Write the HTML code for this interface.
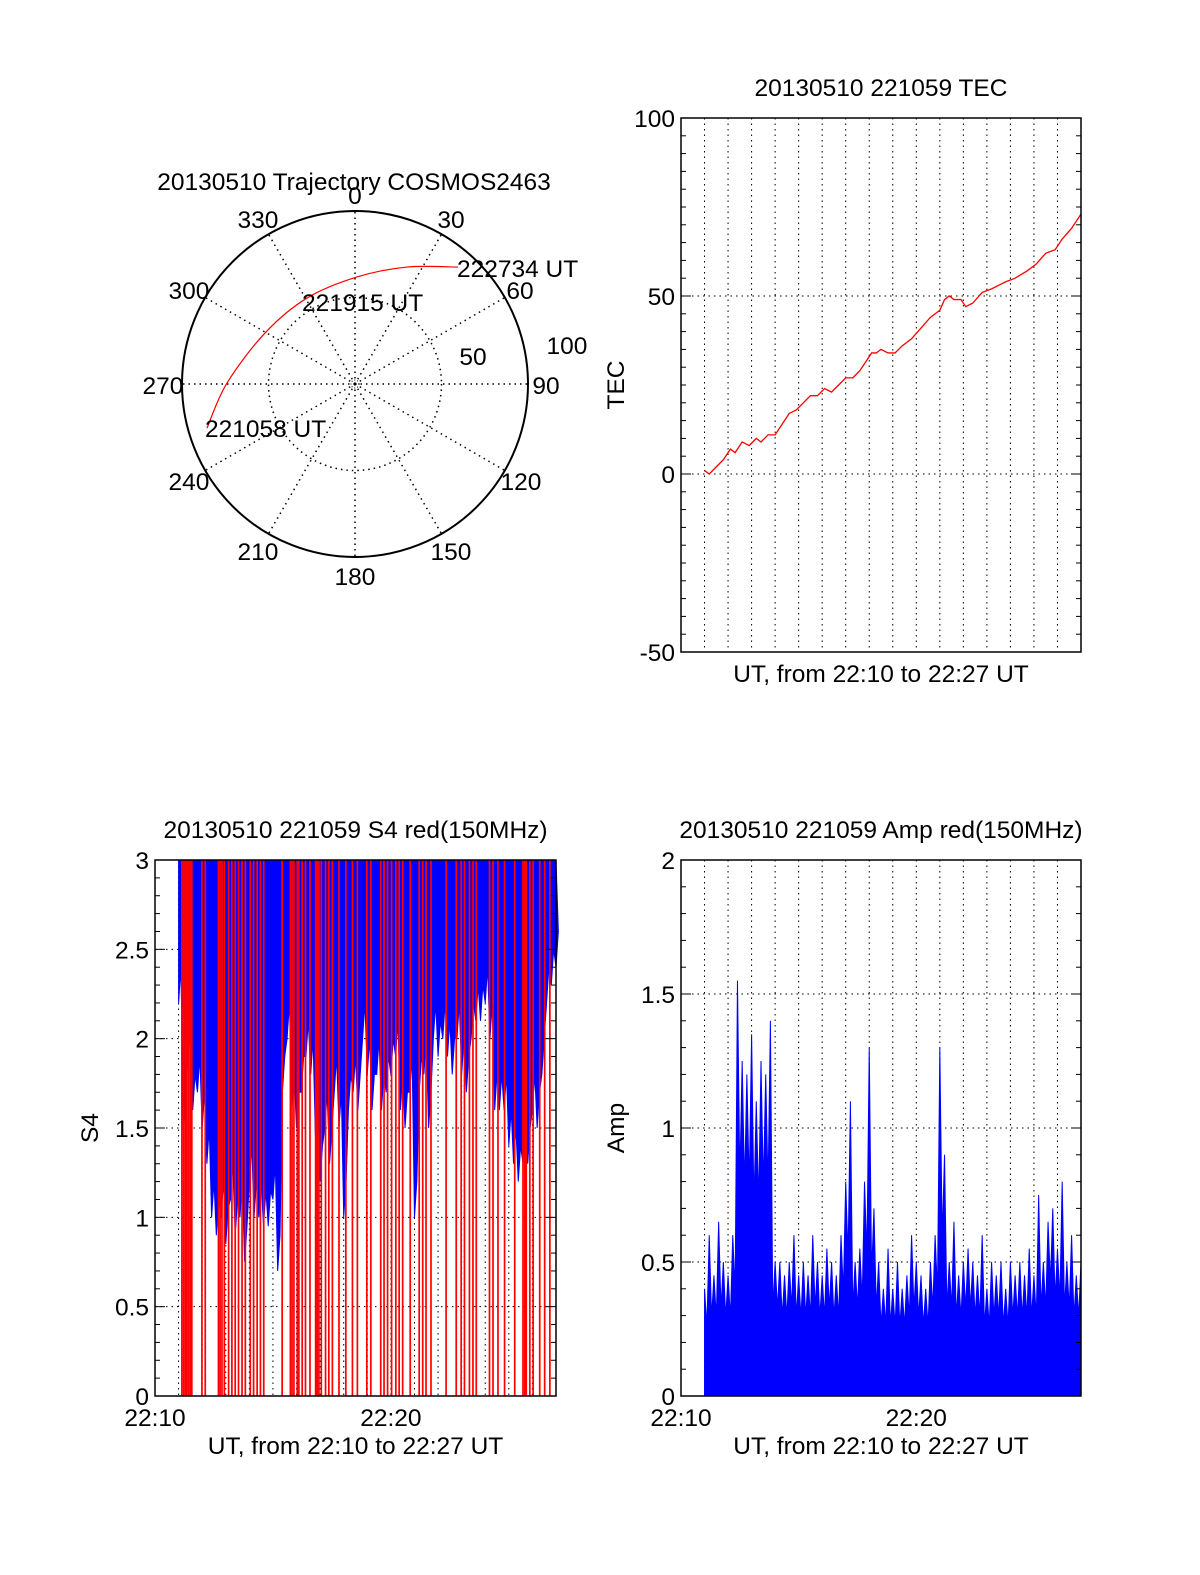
<!DOCTYPE html>
<html><head><meta charset="utf-8"><style>
html,body{margin:0;padding:0;background:#fff;overflow:hidden;width:1200px;height:1575px}
svg{display:block;font-family:"Liberation Sans",sans-serif}
text{font-size:24.5px;fill:#000}
</style></head><body>
<svg id="s" width="1200" height="1575" viewBox="0 0 1200 1575"></svg>
<script>
// ---- data ----
const trajAz = [253.4, 270.4, 299.5, 330.8, 1.1, 24.0, 41.4];
const trajR = [89.3, 74.0, 59.8, 56.9, 61.9, 74.0, 90.1];
const tecT = [1.0,1.2,1.5,1.8,2.1,2.3,2.6,2.9,3.2,3.4,3.7,4.0,4.3,4.6,4.9,5.2,5.5,5.8,6.1,6.4,6.7,7.0,7.3,7.6,7.9,8.1,8.3,8.5,8.8,9.1,9.4,9.8,10.2,10.6,11.0,11.2,11.4,11.6,11.9,12.1,12.4,12.8,13.2,13.5,13.8,14.2,14.7,15.1,15.5,15.9,16.2,16.6,17.0];
const tecV = [1,0,2,4,7,6,9,8,10,9,11,11,14,17,18,20,22,22,24,23,25,27,27,29,32,34,34,35,34,34,36,38,41,44,46,49,50,49,49,47,48,51,52,53,54,55,57,59,62,63,66,69,73];
const s4T0 = 1.0, s4Step = 0.2;
const s4BlueMin = [2.2,1.5,1.9,1.6,1.7,1.5,1.3,1.0,0.9,1.0,0.85,1.1,0.9,1.0,0.75,1.2,1.0,1.0,0.95,0.95,1.1,0.7,1.7,2.0,1.6,1.5,1.7,1.9,1.8,1.45,1.2,1.5,1.3,1.7,1.5,1.0,1.6,1.7,1.6,2.0,1.8,1.6,1.8,1.6,1.7,1.8,1.9,1.6,1.5,1.7,1.0,1.7,1.8,1.5,2.0,1.9,2.0,1.9,1.8,2.0,1.8,1.7,2.0,2.1,2.1,2.2,2.0,1.6,1.6,1.6,1.4,1.3,1.2,1.3,1.3,1.6,1.5,1.8,2.2,2.3,2.4];
const s4RedSpikes = [1.14,1.21,1.28,1.35,1.42,1.49,1.56,1.99,2.13,2.69,2.76,2.84,2.94,3.12,3.26,3.40,3.54,3.69,3.83,4.04,4.18,4.33,4.47,4.61,5.39,5.74,5.81,5.89,6.03,6.10,6.24,6.38,6.57,6.81,6.88,6.95,7.05,7.23,7.37,7.52,7.80,8.09,8.37,8.58,8.98,9.15,9.57,9.71,9.86,10.03,10.21,10.35,10.50,10.82,11.20,11.35,11.49,11.70,12.34,12.77,12.98,13.12,13.33,13.48,13.62,14.18,14.33,14.54,14.82,15.25,15.60,15.67,15.74,15.89,16.03,16.31,16.52,16.74];
const ampT0 = 1.0, ampStep = 0.2;
const ampV = [0.4,0.6,0.45,0.65,0.5,0.45,0.6,1.55,1.25,1.2,1.35,1.1,1.25,1.2,1.4,0.5,0.5,0.45,0.5,0.6,0.45,0.5,0.45,0.6,0.5,0.45,0.55,0.5,0.45,0.6,0.8,1.1,0.5,0.55,0.8,1.3,0.7,0.5,0.4,0.55,0.4,0.5,0.4,0.45,0.6,0.5,0.45,0.4,0.5,0.6,1.3,0.9,0.5,0.65,0.45,0.5,0.55,0.5,0.45,0.6,0.4,0.5,0.45,0.5,0.4,0.5,0.45,0.5,0.45,0.55,0.45,0.75,0.5,0.65,0.7,0.55,0.8,0.5,0.6,0.45,0.5];

const S = document.getElementById('s');
const NS = 'http://www.w3.org/2000/svg';
function el(tag, attrs, parent){const e=document.createElementNS(NS,tag);for(const k in attrs)e.setAttribute(k,attrs[k]);(parent||S).appendChild(e);return e;}
function txt(x,y,s,anchor,parent){const t=el('text',{x:x,y:y,'text-anchor':anchor||'middle'},parent);t.textContent=s;return t;}

// ---- polar ----
const pg = el('g',{});


const cx=355, cy=384, R=173;
function pxy(az,r){const a=az*Math.PI/180;return [cx+Math.sin(a)*r/100*R, cy-Math.cos(a)*r/100*R];}
const t0=txt(354,190,'20130510 Trajectory COSMOS2463','middle',pg);

for(let a=0;a<360;a+=30){const p=pxy(a,100);el('line',{x1:cx,y1:cy,x2:p[0],y2:p[1],stroke:'#000','stroke-width':1.5,'stroke-dasharray':'1.5,4'},pg);}
el('circle',{cx:cx,cy:cy,r:R/2,fill:'none',stroke:'#000','stroke-width':1.5,'stroke-dasharray':'1.5,4'},pg);
el('circle',{cx:cx,cy:cy,r:4,fill:'none',stroke:'#000','stroke-width':1,'stroke-dasharray':'1,2'},pg);
el('circle',{cx:cx,cy:cy,r:R,fill:'none',stroke:'#000','stroke-width':2},pg);
const angLab=[['0',355,204],['30',451,228],['60',520,299],['90',546,394],['120',521,490],['150',451,560],['180',355,585],['210',258,560],['240',189,490],['270',163,394],['300',189,299],['330',258,228]];
angLab.forEach(l=>{const t=txt(l[1],l[2],l[0],'middle',pg);});
txt(567,354,'100','middle',pg);txt(473,365,'50','middle',pg);
// smooth curve through trajectory points (Catmull-Rom)
const P=trajAz.map((a,i)=>pxy(a,trajR[i]));
let d='M'+P[0][0]+','+P[0][1];
for(let i=0;i<P.length-1;i++){const p0=P[Math.max(0,i-1)],p1=P[i],p2=P[i+1],p3=P[Math.min(P.length-1,i+2)];
  d+=' C'+(p1[0]+(p2[0]-p0[0])/6)+','+(p1[1]+(p2[1]-p0[1])/6)+' '+(p2[0]-(p3[0]-p1[0])/6)+','+(p2[1]-(p3[1]-p1[1])/6)+' '+p2[0]+','+p2[1];}
const tp=el('path',{d:d,fill:'none',stroke:'red','stroke-width':1.2},pg);

txt(457,277,'222734 UT','start',pg);txt(302,311,'221915 UT','start',pg);txt(205,437,'221058 UT','start',pg);

// ---- generic axes ----
function axes(name,x0,y0,w,h,ymin,ymax,yMajor,yMinor,yLabels,title,ytitle,xTicks){
  const g=el('g',{});
  
  
  const X=t=>x0+t/17*w, Y=v=>y0+h-(v-ymin)/(ymax-ymin)*h;
  for(let m=1;m<17;m++){el('line',{x1:X(m),y1:y0,x2:X(m),y2:y0+h,stroke:'#000','stroke-width':1,'stroke-dasharray':'1.5,4'},g);}
  yMajor.forEach(v=>{if(v>ymin&&v<ymax)el('line',{x1:x0,y1:Y(v),x2:x0+w,y2:Y(v),stroke:'#000','stroke-width':1,'stroke-dasharray':'1.5,4'},g);});
  return {g,X,Y,finish(){
    for(let v=ymin;v<=ymax+1e-9;v+=yMinor){const big=yMajor.some(m=>Math.abs(m-v)<1e-6);const L=big?10:5;
      el('line',{x1:x0,y1:Y(v),x2:x0+L,y2:Y(v),stroke:'#000'},g);el('line',{x1:x0+w,y1:Y(v),x2:x0+w-L,y2:Y(v),stroke:'#000'},g);}
    el('rect',{x:x0,y:y0,width:w,height:h,fill:'none',stroke:'#000','stroke-width':1.5},g);
    yMajor.forEach((v,i)=>{const t=txt(x0-6,Y(v)+9,yLabels[i],'end',g);});
    const tt=txt(x0+w/2,y0-22,title,'middle',g);
    const yt=el('text',{x:0,y:0,'text-anchor':'middle',transform:`translate(${x0-57},${y0+h/2}) rotate(-90)`},g);yt.textContent=ytitle;
    
    if(xTicks){txt(x0,y0+h+30,'22:10','middle',g);txt(X(10),y0+h+30,'22:20','middle',g);}
    const xt=txt(x0+w/2,y0+h+(xTicks?58:30),'UT, from 22:10 to 22:27 UT','middle',g);
    
  }};
}

// TEC
const A1=axes('tec-chart',681,118,400,534,-50,100,[100,50,0,-50],5,['100','50','0','-50'],'20130510 221059 TEC','TEC',false);
const tecPl=el('polyline',{points:tecT.map((t,i)=>A1.X(t)+','+A1.Y(tecV[i])).join(' '),fill:'none',stroke:'red','stroke-width':1.3},A1.g);

A1.finish();

// S4
const A2=axes('s4-chart',155,860,401,536,0,3,[3,2.5,2,1.5,1,0.5,0],0.1,['3','2.5','2','1.5','1','0.5','0'],'20130510 221059 S4 red(150MHz)','S4',true);
let bp=[];bp.push(A2.X(s4T0)+','+A2.Y(3));
s4BlueMin.forEach((v,i)=>{const t=s4T0+i*s4Step;bp.push(A2.X(t)+','+A2.Y(v));bp.push(A2.X(t+s4Step/2)+','+A2.Y(Math.min(3,v+0.2)));});
bp.push(A2.X(s4T0+(s4BlueMin.length-1)*s4Step)+','+A2.Y(3));
const blueS4=el('polygon',{points:bp.join(' '),fill:'blue',stroke:'blue','stroke-width':1},A2.g);

s4RedSpikes.forEach(t=>{const l=el('line',{x1:A2.X(t),y1:A2.Y(0),x2:A2.X(t),y2:A2.Y(3),stroke:'red','stroke-width':1.7},A2.g);
  });
A2.finish();

// Amp
const A3=axes('amp-chart',681,860,400,536,0,2,[2,1.5,1,0.5,0],0.1,['2','1.5','1','0.5','0'],'20130510 221059 Amp red(150MHz)','Amp',true);
let ap=[];ap.push(A3.X(ampT0)+','+A3.Y(0));
ampV.forEach((v,i)=>{const t=ampT0+i*ampStep;ap.push(A3.X(t)+','+A3.Y(v));
  if(i<ampV.length-1)ap.push(A3.X(t+ampStep/2)+','+A3.Y(0.65*Math.min(v,ampV[i+1])));});
ap.push(A3.X(ampT0+(ampV.length-1)*ampStep)+','+A3.Y(0));
const ampPoly=el('polygon',{points:ap.join(' '),fill:'blue',stroke:'blue','stroke-width':1},A3.g);

A3.finish();
</script>
</body></html>
